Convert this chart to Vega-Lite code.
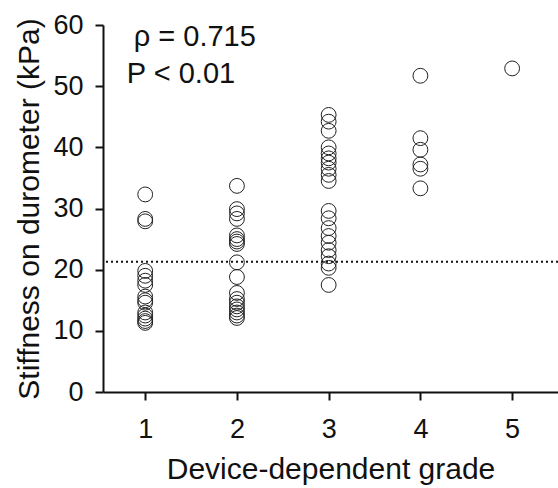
{
  "$schema": "https://vega.github.io/schema/vega-lite/v6.json",
  "width": 455,
  "height": 367,
  "autosize": "none",
  "padding": {"left": 103, "top": 25, "right": 0, "bottom": 96},
  "config": {
    "view": {"stroke": null},
    "font": "Liberation Sans",
    "axis": {
      "grid": false,
      "domainColor": "#111",
      "domainWidth": 2,
      "tickColor": "#111",
      "tickWidth": 2,
      "tickSize": 8,
      "labelFont": "Liberation Sans",
      "labelFontSize": 27,
      "labelColor": "#111",
      "titleFont": "Liberation Sans",
      "titleFontSize": 30,
      "titleFontWeight": "normal",
      "titleColor": "#111"
    }
  },
  "datasets": {
    "pts": [
      {"grade": 1, "kPa": 32.3}, {"grade": 1, "kPa": 28.3}, {"grade": 1, "kPa": 27.9},
      {"grade": 1, "kPa": 19.8}, {"grade": 1, "kPa": 19.0}, {"grade": 1, "kPa": 18.2},
      {"grade": 1, "kPa": 17.5}, {"grade": 1, "kPa": 15.6}, {"grade": 1, "kPa": 15.0},
      {"grade": 1, "kPa": 14.6}, {"grade": 1, "kPa": 13.0}, {"grade": 1, "kPa": 12.5},
      {"grade": 1, "kPa": 12.0}, {"grade": 1, "kPa": 11.6}, {"grade": 1, "kPa": 11.3},
      {"grade": 2, "kPa": 33.7}, {"grade": 2, "kPa": 29.9}, {"grade": 2, "kPa": 29.2},
      {"grade": 2, "kPa": 28.3}, {"grade": 2, "kPa": 25.6}, {"grade": 2, "kPa": 25.0},
      {"grade": 2, "kPa": 24.6}, {"grade": 2, "kPa": 24.2}, {"grade": 2, "kPa": 21.2},
      {"grade": 2, "kPa": 18.8}, {"grade": 2, "kPa": 16.2}, {"grade": 2, "kPa": 15.2},
      {"grade": 2, "kPa": 14.6}, {"grade": 2, "kPa": 14.0}, {"grade": 2, "kPa": 13.5},
      {"grade": 2, "kPa": 13.0}, {"grade": 2, "kPa": 12.5}, {"grade": 2, "kPa": 12.1},
      {"grade": 3, "kPa": 45.3}, {"grade": 3, "kPa": 44.2}, {"grade": 3, "kPa": 42.7},
      {"grade": 3, "kPa": 40.0}, {"grade": 3, "kPa": 39.0}, {"grade": 3, "kPa": 38.2},
      {"grade": 3, "kPa": 37.5}, {"grade": 3, "kPa": 36.5}, {"grade": 3, "kPa": 35.5},
      {"grade": 3, "kPa": 34.5}, {"grade": 3, "kPa": 29.6}, {"grade": 3, "kPa": 28.4},
      {"grade": 3, "kPa": 26.8}, {"grade": 3, "kPa": 25.5}, {"grade": 3, "kPa": 24.4},
      {"grade": 3, "kPa": 23.2}, {"grade": 3, "kPa": 22.2}, {"grade": 3, "kPa": 21.0},
      {"grade": 3, "kPa": 20.3}, {"grade": 3, "kPa": 17.5},
      {"grade": 4, "kPa": 51.7}, {"grade": 4, "kPa": 41.5}, {"grade": 4, "kPa": 39.6},
      {"grade": 4, "kPa": 37.2}, {"grade": 4, "kPa": 36.5}, {"grade": 4, "kPa": 33.3},
      {"grade": 5, "kPa": 52.9}
    ],
    "ref": [{"kPa": 21.3}],
    "notes": [
      {"x": 0.875, "y": 58.0, "label": "ρ = 0.715"},
      {"x": 0.80, "y": 52.0, "label": "P < 0.01"}
    ]
  },
  "layer": [
    {
      "data": {"name": "ref"},
      "mark": {"type": "rule", "color": "#111", "strokeWidth": 2, "strokeDash": [2, 3]},
      "encoding": {"y": {"field": "kPa", "type": "quantitative"}}
    },
    {
      "data": {"name": "pts"},
      "mark": {"type": "point", "shape": "circle", "size": 220, "filled": false, "stroke": "#222", "strokeWidth": 1, "opacity": 1},
      "encoding": {
        "x": {
          "field": "grade", "type": "quantitative",
          "scale": {"domain": [0.54, 5.5], "nice": false, "zero": false},
          "axis": {"values": [1, 2, 3, 4, 5], "format": "d", "title": "Device-dependent grade", "labelPadding": 16, "titlePadding": 12}
        },
        "y": {
          "field": "kPa", "type": "quantitative",
          "scale": {"domain": [0, 60], "nice": false},
          "axis": {"values": [0, 10, 20, 30, 40, 50, 60], "format": "d", "title": "Stiffness on durometer (kPa)", "labelPadding": 12, "titlePadding": 8}
        }
      }
    },
    {
      "data": {"name": "notes"},
      "mark": {"type": "text", "align": "left", "baseline": "middle", "fontSize": 29, "color": "#111", "font": "Liberation Sans"},
      "encoding": {
        "x": {"field": "x", "type": "quantitative"},
        "y": {"field": "y", "type": "quantitative"},
        "text": {"field": "label"}
      }
    }
  ]
}
